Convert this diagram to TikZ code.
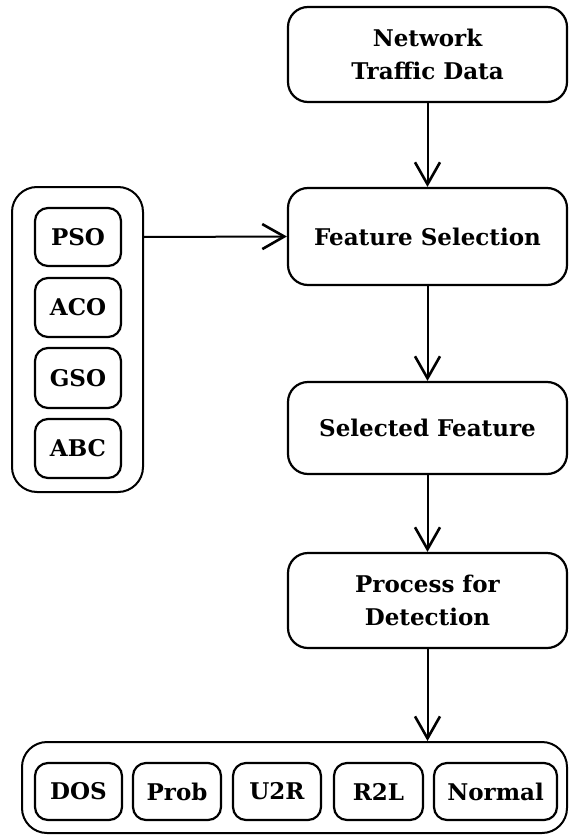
\documentclass[tikz,border=0pt]{standalone}
\usepackage{fontspec}
\setmainfont{DejaVu Serif}
\usetikzlibrary{arrows.meta}
\begin{document}
\begin{tikzpicture}[x=1pt,y=-1pt,
  box/.style={draw, line width=2.2pt, rounded corners=20pt, align=center, inner sep=0pt,
    font=\fontsize{23}{33}\selectfont\bfseries},
  mainbox/.style={box, minimum width=279pt},
  smallbox/.style={box, rounded corners=13pt},
  cont/.style={draw, line width=2pt, rounded corners=25pt, inner sep=0pt},
  arr/.style={line width=2pt, -{Straight Barb[length=22pt,width=25pt,line width=2.6pt]}}
]
\useasboundingbox (0,0) rectangle (569,837);
\node[mainbox, minimum height=95pt] (net) at (427.5,54.5) {Network\\Traffic Data};
\node[mainbox, minimum height=97pt] (fs) at (427.5,236.5) {Feature Selection};
\node[mainbox, minimum height=92pt] (sf) at (427.5,428) {Selected Feature};
\node[mainbox, minimum height=95pt] (pd) at (427.5,600.5) {Process for\\Detection};
% left container
\node[cont, minimum width=131pt, minimum height=305pt] (lc) at (77.5,339.5) {};
\node[smallbox, minimum width=86pt, minimum height=58pt] (pso) at (78,237) {PSO};
\node[smallbox, minimum width=86pt, minimum height=59pt] (aco) at (78,307.5) {ACO};
\node[smallbox, minimum width=86pt, minimum height=60pt] (gso) at (78,378) {GSO};
\node[smallbox, minimum width=86pt, minimum height=59pt] (abc) at (78,448.5) {ABC};
% bottom container
\node[cont, minimum width=545pt, minimum height=91pt] (bc) at (294.5,787.5) {};
\node[smallbox, minimum width=87pt, minimum height=57pt] (dos) at (78.5,791.5) {DOS};
\node[smallbox, minimum width=88pt, minimum height=57pt] (prob) at (177,791.5) {Prob};
\node[smallbox, minimum width=88pt, minimum height=57pt] (u2r) at (277,791.5) {U2R};
\node[smallbox, minimum width=89pt, minimum height=57pt] (r2l) at (378.5,791.5) {R2L};
\node[smallbox, minimum width=123pt, minimum height=57pt] (norm) at (495.5,791.5) {Normal};
% arrows
\draw[arr] (net.south) -- (fs.north);
\draw[arr] (pso -| lc.east) -- (fs.west);
\draw[arr] (fs.south) -- (sf.north);
\draw[arr] (sf.south) -- (pd.north);
\draw[arr] (pd.south) -- (pd.south |- bc.north);
\end{tikzpicture}
\end{document}
